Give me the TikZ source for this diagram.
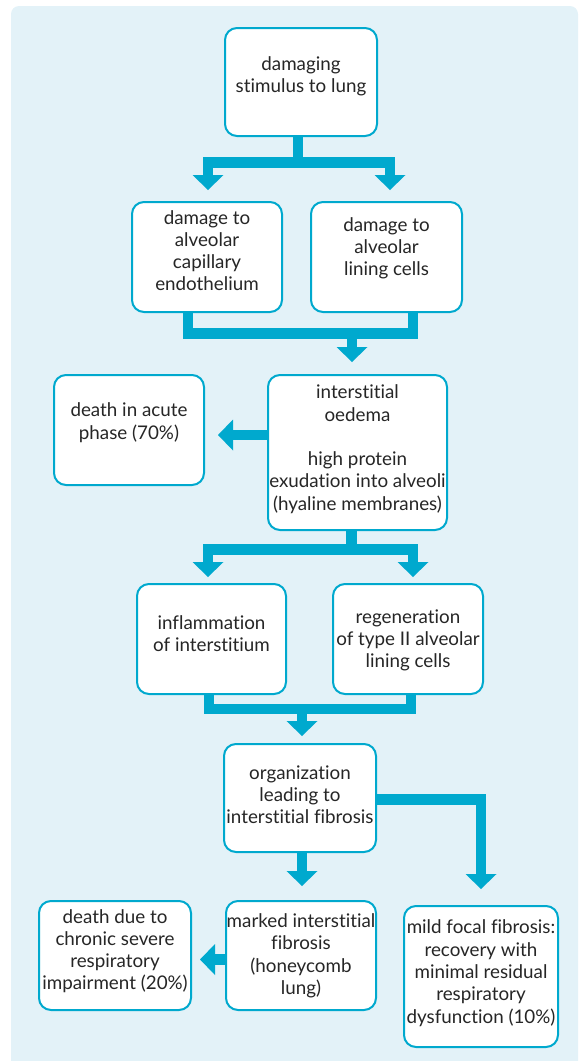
\documentclass[tikz,border=0pt]{standalone}
\usepackage{fontspec}
\setmainfont{Lato}[Ligatures=NoCommon]
\usetikzlibrary{arrows.meta}
\definecolor{panelblue}{HTML}{E3F2F8}
\definecolor{flowcyan}{HTML}{00A9CE}
\definecolor{inktext}{HTML}{262626}
% centred lines of a box, optionally lifted by #1 without changing the box size
\newcommand{\boxtext}[2][0pt]{\raisebox{#1}[\height][\depth]{\begin{tabular}{@{}c@{}}#2\end{tabular}}}
\begin{document}
\begin{tikzpicture}[x=1pt,y=-1pt,
  stagebox/.style={draw=flowcyan, line width=2pt, rounded corners=12pt, fill=white,
    inner sep=0pt, text=inktext, font=\fontsize{18.8}{22.3}\selectfont},
  bar/.style={draw=flowcyan, line width=10.5pt, line join=miter},
  flow/.style={bar, -{Triangle[width=31pt,length=15pt,line width=0pt]}},
]
\useasboundingbox (0,0) rectangle (579,1061);
\fill[panelblue, rounded corners=8pt] (11,6) rectangle (578,1080);

% boxes
\node[stagebox, minimum width=152pt, minimum height=108pt] (b1) at (301,82)
  {\boxtext[5pt]{damaging\\stimulus to lung}};
\node[stagebox, minimum width=150pt, minimum height=110pt] (b2) at (207,257)
  {\boxtext[4pt]{damage to\\alveolar\\capillary\\endothelium}};
\node[stagebox, minimum width=151pt, minimum height=110pt] (b3) at (386.5,257)
  {\boxtext[8pt]{damage to\\alveolar\\lining cells}};
\node[stagebox, minimum width=179pt, minimum height=155pt] (b4) at (357.5,452.5)
  {\boxtext[2.5pt]{interstitial\\oedema\\ \\high protein\\exudation into alveoli\\(hyaline membranes)}};
\node[stagebox, minimum width=150pt, minimum height=110pt] (b5) at (129,430)
  {\boxtext[6.5pt]{death in acute\\phase (70\%)}\hspace{19pt}};
\node[stagebox, minimum width=149pt, minimum height=110pt] (b6) at (211.5,639)
  {\boxtext[3pt]{inflammation\\of interstitium}};
\node[stagebox, minimum width=150pt, minimum height=110pt] (b7) at (408,639)
  {\boxtext[-2pt]{regeneration\\of type II alveolar\\lining cells}};
\node[stagebox, minimum width=152pt, minimum height=108pt] (b8) at (300,798)
  {\boxtext[1pt]{organization\\leading to\\interstitial fibrosis}};
\node[stagebox, minimum width=150pt, minimum height=109pt] (b9) at (301,955.5)
  {\boxtext[-1pt]{marked interstitial\\fibrosis\\(honeycomb\\lung)}};
\node[stagebox, minimum width=152pt, minimum height=109pt] (b10) at (115,955.5)
  {\boxtext[3.5pt]{death due to\\chronic severe\\respiratory\\impairment (20\%)}};
\node[stagebox, minimum width=154pt, minimum height=141pt] (b11) at (481,976.5)
  {\boxtext[2.5pt]{mild focal fibrosis:\\recovery with\\minimal residual\\respiratory\\dysfunction (10\%)}};

% junction points of the joined connectors
\coordinate (m1) at (352,333.5);
\coordinate (m2) at (302,709);

% stimulus splits into the two kinds of damage
\draw[flow, shorten >=11pt] ([xshift=-3pt]b1.south) -- ++(0,25.5) -| ([xshift=1pt]b2.north);
\draw[flow, shorten >=11pt] ([xshift=-3pt]b1.south) -- ++(0,25.5) -| ([xshift=3.5pt]b3.north);

% both kinds of damage lead to oedema
\draw[bar] ([xshift=-19pt]b2.south) |- (m1) -| ([xshift=26.5pt]b3.south);
\draw[flow, shorten >=12pt] (m1) -- (m1 |- b4.north);

% acute death
\draw[flow, shorten >=13pt] ([yshift=17.5pt]b4.west) coordinate (h1) -- (h1 -| b5.east);

% oedema splits into inflammation and regeneration
\draw[flow, shorten >=6pt] ([xshift=-6pt]b4.south) -- ++(0,18.5) -| ([xshift=-3.5pt]b6.north);
\draw[flow, shorten >=6pt] ([xshift=-6pt]b4.south) -- ++(0,18.5) -| ([xshift=5pt]b7.north);

% both lead to organization
\draw[bar] ([xshift=-2.5pt]b6.south) |- (m2) -| ([xshift=3pt]b7.south);
\draw[flow, shorten >=7pt] (m2) -- (m2 |- b8.north);

% outcomes of organization
\draw[flow, shorten >=14pt] ([xshift=2pt]b8.south) -- ([xshift=1pt]b9.north);
\draw[flow, shorten >=16pt] ([yshift=-1.5pt]b8.east) -| (b11.north);

% chronic death
\draw[flow, shorten >=8pt] ([yshift=-4pt]b9.west) coordinate (h2) -- (h2 -| b10.east);
\end{tikzpicture}
\end{document}
